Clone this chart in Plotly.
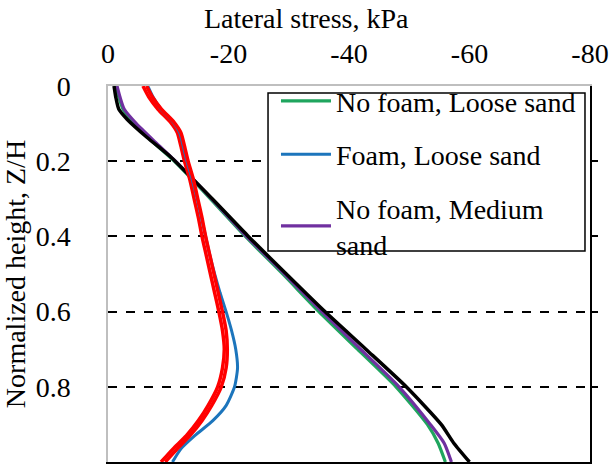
import plotly.graph_objects as go

# Normalized height Z/H (0 = top, 1 = base) and lateral stress (kPa) per profile
z_main = [0.0, 0.03, 0.062, 0.1, 0.15, 0.2, 0.3, 0.4, 0.5, 0.6, 0.7, 0.8, 0.9, 0.95, 1.0]
no_foam_loose = [-1.3, -1.8, -2.5, -4.3, -7.5, -11.0, -17.0, -22.8, -29.0, -35.0, -41.4, -47.8, -53.0, -54.8, -56.0]
no_foam_medium = [-1.5, -2.0, -2.7, -4.7, -7.9, -11.2, -17.2, -23.0, -29.3, -35.5, -41.9, -48.3, -53.5, -55.8, -57.0]

z_black = [0.0, 0.03, 0.062, 0.089, 0.137, 0.19, 0.3, 0.4, 0.5, 0.6, 0.7, 0.8, 0.9, 0.95, 1.0]
reference_profile = [-1.0, -1.3, -1.8, -3.2, -6.5, -10.5, -17.3, -23.3, -29.6, -36.0, -42.8, -49.5, -55.3, -57.4, -60.0]

z_wall = [0.0, 0.03, 0.062, 0.097, 0.124, 0.16, 0.2, 0.25, 0.3, 0.35, 0.4, 0.45, 0.5, 0.55,
          0.6, 0.65, 0.7, 0.75, 0.8, 0.85, 0.89, 0.93, 0.965, 1.0]
foam_loose = [-6.6, -7.5, -8.8, -10.9, -11.9, -12.5, -13.1, -14.0, -14.8, -15.5, -16.2, -16.9,
              -17.7, -18.6, -19.6, -20.5, -21.2, -21.5, -21.0, -19.6, -17.4, -14.4, -12.1, -10.7]
red_a = [-5.8, -6.8, -8.3, -10.4, -11.5, -12.1, -12.7, -13.6, -14.3, -15.0, -15.6, -16.3,
         -17.0, -17.7, -18.4, -19.0, -19.3, -19.0, -18.2, -16.6, -15.0, -13.0, -10.8, -8.8]
red_b = [-6.4, -7.4, -8.9, -11.0, -12.1, -12.7, -13.3, -14.2, -14.9, -15.6, -16.2, -16.9,
         -17.6, -18.3, -19.0, -19.6, -19.8, -19.6, -18.8, -17.2, -15.6, -13.6, -11.5, -9.5]

x_ticks = [0, -20, -40, -60, -80]
x_tick_labels = ["0", "-20", "-40", "-60", "-80"]
y_ticks = [0, 0.2, 0.4, 0.6, 0.8, 1]
y_tick_labels = ["0", "0.2", "0.4", "0.6", "0.8", "1"]
grid_levels = [0.2, 0.4, 0.6, 0.8]

SERIF = "Liberation Serif, Times New Roman, serif"
AXIS_FS = 28
LEGEND_FS = 28

fig = go.Figure()

def profile(x, y, color, width, name, show, rank=1000):
    fig.add_trace(go.Scatter(
        x=x, y=y, mode="lines", name=name, showlegend=show,
        legendgroup=name, legendrank=rank,
        line=dict(color=color, width=width, shape="spline", smoothing=0.6),
        hoverinfo="skip",
    ))

profile(no_foam_loose, z_main, "#1FA55E", 3.2, "No foam, Loose sand", True, 1)
profile(no_foam_medium, z_main, "#7030A0", 3.2, "No foam, Medium<br>sand", True, 3)
profile(reference_profile, z_black, "#000000", 3.5, "Reference", False)
profile(red_a, z_wall, "#FF0000", 3.5, "Series A", False)
profile(foam_loose, z_wall, "#1C75BC", 3.0, "Foam, Loose sand", True, 2)
profile(red_b, z_wall, "#FF0000", 3.5, "Series B", False)

# invisible carrier for the right/bottom frame axes
fig.add_trace(go.Scatter(x=[None], y=[None], xaxis="x2", yaxis="y2",
                         showlegend=False, hoverinfo="skip"))

fig.update_layout(
    width=612, height=473,
    margin=dict(l=108, r=22, t=86, b=11, autoexpand=False),
    paper_bgcolor="white", plot_bgcolor="white",
    font=dict(family=SERIF, size=AXIS_FS, color="black"),
    xaxis=dict(
        side="top", range=[0, -80], tickvals=x_ticks, ticktext=x_tick_labels,
        showgrid=False, zeroline=False, showline=True, linecolor="#BFBFBF", linewidth=1.5,
        ticks="", ticklabelstandoff=10, tickfont=dict(size=AXIS_FS), automargin=False,
    ),
    yaxis=dict(
        range=[1, 0], tickvals=y_ticks, ticktext=y_tick_labels,
        showgrid=False, zeroline=False, showline=True, linecolor="#BFBFBF", linewidth=1.5,
        ticks="", ticklabelstandoff=30, tickfont=dict(size=AXIS_FS), automargin=False,
        title=dict(text="Normalized height, Z/H", standoff=6, font=dict(size=AXIS_FS)),
    ),
    xaxis2=dict(
        overlaying="x", side="bottom", range=[0, -80], anchor="y2", automargin=False,
        showgrid=False, zeroline=False, showticklabels=False, ticks="",
        showline=True, linecolor="black", linewidth=2,
    ),
    yaxis2=dict(
        overlaying="y", side="right", range=[1, 0], anchor="x2", automargin=False,
        tickvals=grid_levels, showticklabels=False,
        showgrid=True, gridcolor="black", gridwidth=1.5, griddash="dash",
        zeroline=False, ticks="outside", ticklen=6, tickwidth=1.5, tickcolor="black",
        showline=True, linecolor="black", linewidth=2,
    ),
    legend=dict(
        x=0.3485, y=1.026, xanchor="left", yanchor="top",
        bgcolor="rgba(0,0,0,0)", borderwidth=0,
        font=dict(family=SERIF, size=LEGEND_FS, color="black"),
        traceorder="grouped", tracegroupgap=14, itemwidth=50,
    ),
    # opaque framed panel behind the legend entries
    shapes=[dict(
        type="rect", xref="paper", yref="paper",
        x0=0.332, x1=0.9896, y0=0.5612, y1=0.9814,
        line=dict(color="black", width=1.5), fillcolor="white", layer="above",
    )],
    annotations=[dict(
        text="Lateral stress, kPa", xref="paper", yref="paper",
        x=0.411, y=1.226, xanchor="center", yanchor="top",
        showarrow=False, font=dict(family=SERIF, size=AXIS_FS, color="black"),
    )],
)

fig.write_html("out.html")
